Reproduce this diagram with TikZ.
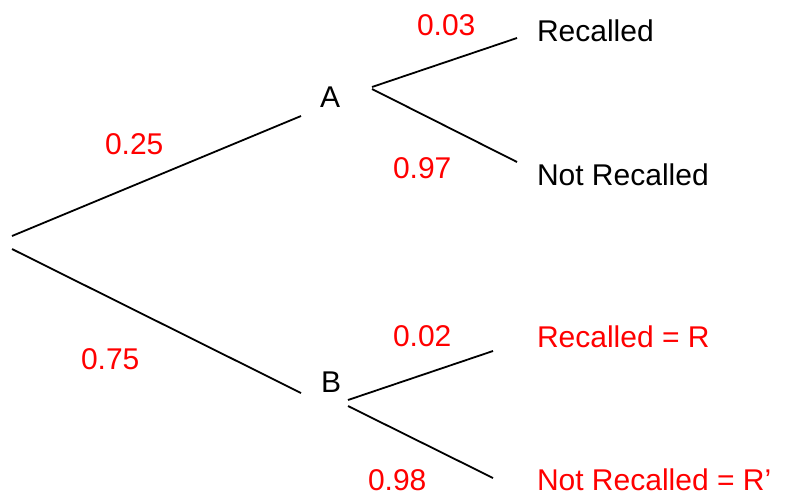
\documentclass[tikz,border=0pt]{standalone}
\usepackage{fontspec}
\setmainfont{Liberation Sans}
\begin{document}
\begin{tikzpicture}[x=1pt,y=-1pt,
  lbl/.style={anchor=base west,inner sep=0pt,outer sep=0pt,font=\fontsize{30}{36}\selectfont},
  prob/.style={lbl,text=red},
  branch/.style={line width=1.8pt,black}]
\useasboundingbox (0,0) rectangle (786,496);
% branch end points
\coordinate (r1) at (12,236);
\coordinate (r2) at (12,249);
\coordinate (a0) at (301,116);
\coordinate (b0) at (301,393);
\coordinate (a1) at (372,87);
\coordinate (a2) at (372,89);
\coordinate (aR) at (517,38);
\coordinate (aN) at (517,162);
\coordinate (b1) at (348,400);
\coordinate (b2) at (348,406);
\coordinate (bR) at (493,351);
\coordinate (bN) at (493,478);
\draw[branch] (r1) -- (a0);
\draw[branch] (r2) -- (b0);
\draw[branch] (a1) -- (aR);
\draw[branch] (a2) -- (aN);
\draw[branch] (b1) -- (bR);
\draw[branch] (b2) -- (bN);
% labels
\node[lbl] (A) at (320,107) {A};
\node[lbl] (B) at (321,392) {B};
\node[lbl] (rec1) at (537,41) {Recalled};
\node[lbl] (nrec1) at (537,185) {Not Recalled};
\node[prob] (rec2) at (537,347) {Recalled = R};
\node[prob] (nrec2) at (537,490) {Not Recalled = R’};
\node[prob] (p25) at (105,154) {0.25};
\node[prob] (p75) at (81,369) {0.75};
\node[prob] (p03) at (417,35) {0.03};
\node[prob] (p97) at (393,178) {0.97};
\node[prob] (p02) at (393,346) {0.02};
\node[prob] (p98) at (368,490) {0.98};
\end{tikzpicture}
\end{document}
